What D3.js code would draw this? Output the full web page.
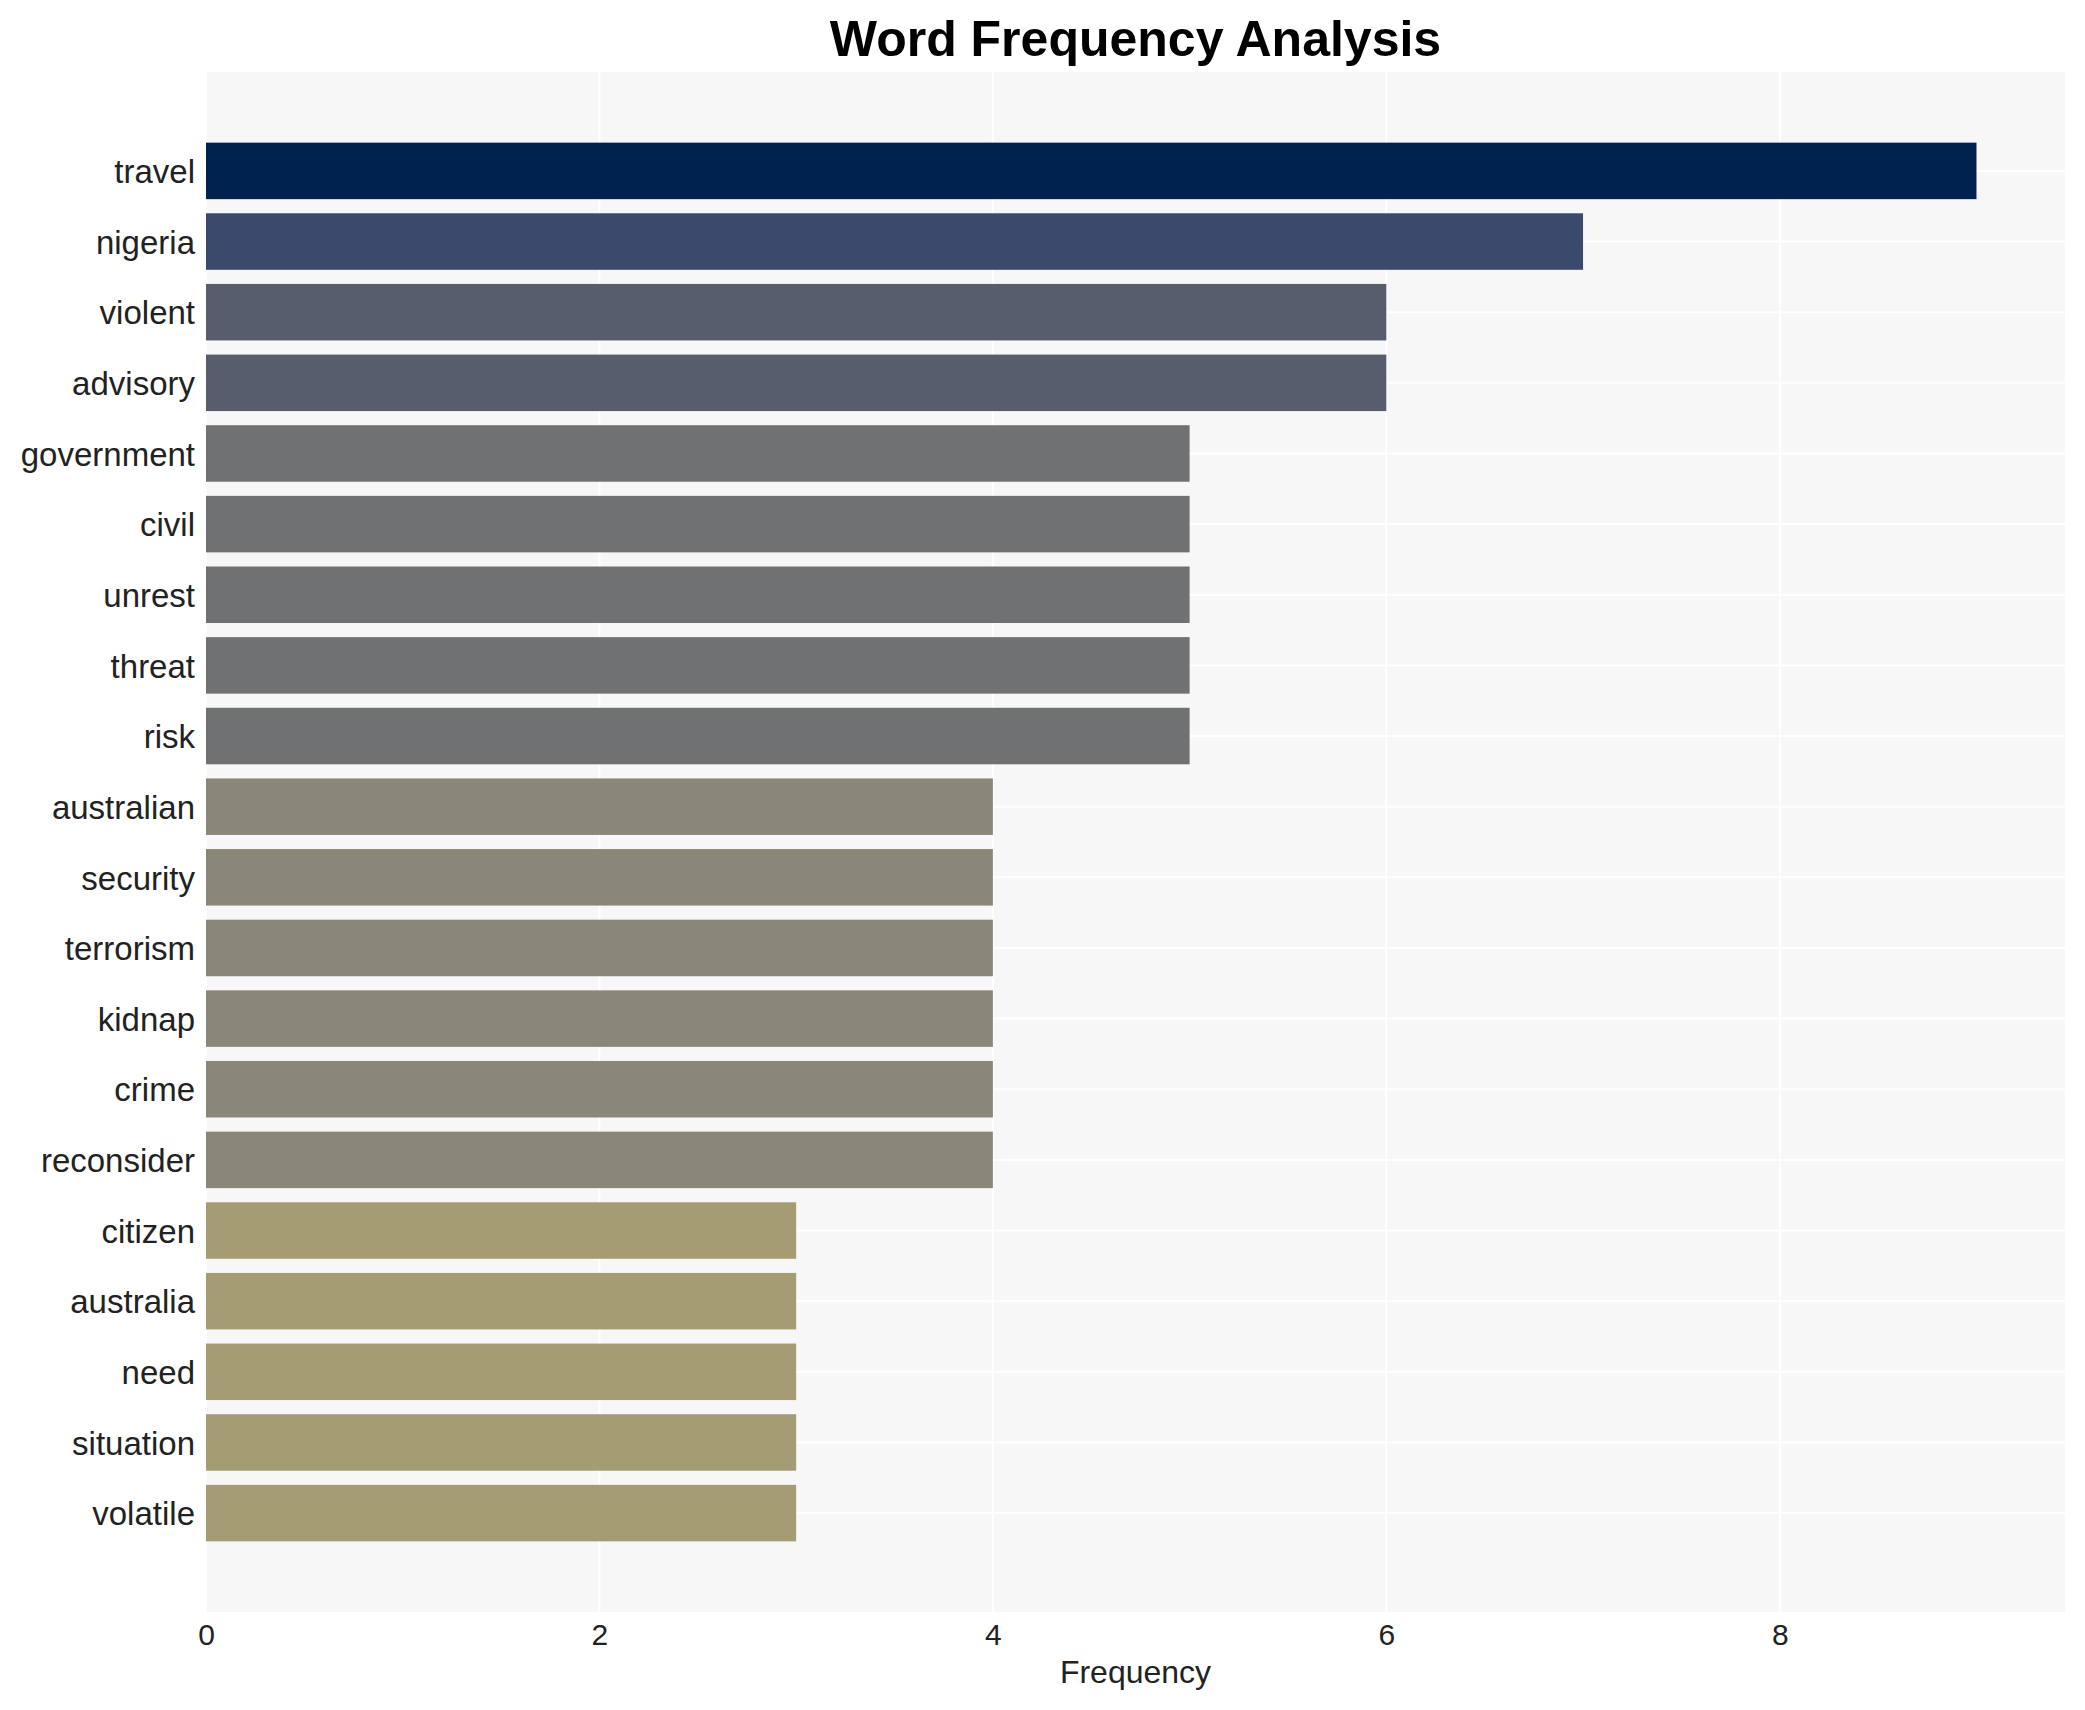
<!DOCTYPE html>
<html>
<head>
<meta charset="utf-8">
<script src="https://cdn.jsdelivr.net/npm/d3@7"></script>
<style>
  body { margin: 0; background: #fff; }
  text { font-family: "Liberation Sans", Arial, sans-serif; fill: #222; }
</style>
</head>
<body>
<svg id="viz" width="2085" height="1710"></svg>
<script>
// word counts, top to bottom
var words = ["travel", "nigeria", "violent", "advisory", "government", "civil", "unrest",
  "threat", "risk", "australian", "security", "terrorism", "kidnap", "crime", "reconsider",
  "citizen", "australia", "need", "situation", "volatile"];
var counts = [9, 7, 6, 6, 5, 5, 5, 5, 5, 4, 4, 4, 4, 4, 4, 3, 3, 3, 3, 3];
var xTicks = [0, 2, 4, 6, 8];
// colour per count (cividis-like, reversed)
var colorKeys = [9, 7, 6, 5, 4, 3];
var colorVals = ["#00224e", "#3b496c", "#575d6d", "#707173", "#8a8678", "#a59c74"];

(function() {
    var svg = d3.select('svg#viz');
    var padL = 206, padR = 2065, padT = 72, padB = 1612;

    var x = d3.scaleLinear().domain([0, d3.max(counts) * 1.05]).range([padL, padR]);
    var y = d3.scaleBand().domain(words).range([padT, padB]).paddingInner(0.2).paddingOuter(1);
    var color = d3.scaleOrdinal().domain(colorKeys).range(colorVals);

    // panel background
    svg.append('rect')
        .attr('x', padL).attr('y', padT)
        .attr('width', padR - padL).attr('height', padB - padT)
        .attr('fill', '#f7f7f7');

    // gridlines
    svg.selectAll('line.vgrid').data(xTicks).enter().append('line')
        .attr('class', 'vgrid')
        .attr('x1', function(d) { return x(d); }).attr('x2', function(d) { return x(d); })
        .attr('y1', padT).attr('y2', padB)
        .attr('stroke', '#fff').attr('stroke-width', 2);

    svg.selectAll('line.hgrid').data(words).enter().append('line')
        .attr('class', 'hgrid')
        .attr('x1', padL).attr('x2', padR)
        .attr('y1', function(d) { return y(d) + y.bandwidth() / 2; })
        .attr('y2', function(d) { return y(d) + y.bandwidth() / 2; })
        .attr('stroke', '#fff').attr('stroke-width', 2);

    // bars
    svg.selectAll('rect.bar').data(words).enter().append('rect')
        .attr('class', 'bar')
        .attr('x', x(0))
        .attr('y', function(d) { return y(d); })
        .attr('width', function(d, i) { return x(counts[i]) - x(0); })
        .attr('height', y.bandwidth())
        .attr('fill', function(d, i) { return color(counts[i]); });

    // y axis labels
    var yAxis = d3.axisLeft(y).tickSize(0).tickPadding(11);
    var gy = svg.append('g').attr('transform', 'translate(' + padL + ',0)').call(yAxis);
    gy.select('.domain').remove();
    gy.selectAll('text').style('font-size', '33px').attr('fill', '#222')
        .attr('dy', '0.37em')
        .style('font-family', '"Liberation Sans", Arial, sans-serif');

    // x axis labels
    var xAxis = d3.axisBottom(x).tickValues(xTicks).tickSize(0).tickPadding(12);
    var gx = svg.append('g').attr('transform', 'translate(0,' + padB + ')').call(xAxis);
    gx.select('.domain').remove();
    gx.selectAll('text').style('font-size', '30px').attr('fill', '#222')
        .style('font-family', '"Liberation Sans", Arial, sans-serif');

    // axis title
    svg.append('text')
        .attr('x', (padL + padR) / 2).attr('y', 1683)
        .attr('text-anchor', 'middle')
        .style('font-size', '32px')
        .text('Frequency');

    // chart title
    svg.append('text')
        .attr('x', (padL + padR) / 2).attr('y', 56)
        .attr('text-anchor', 'middle')
        .style('font-size', '50px').style('font-weight', 'bold')
        .style('fill', '#000')
        .text('Word Frequency Analysis');
})();
</script>
</body>
</html>
